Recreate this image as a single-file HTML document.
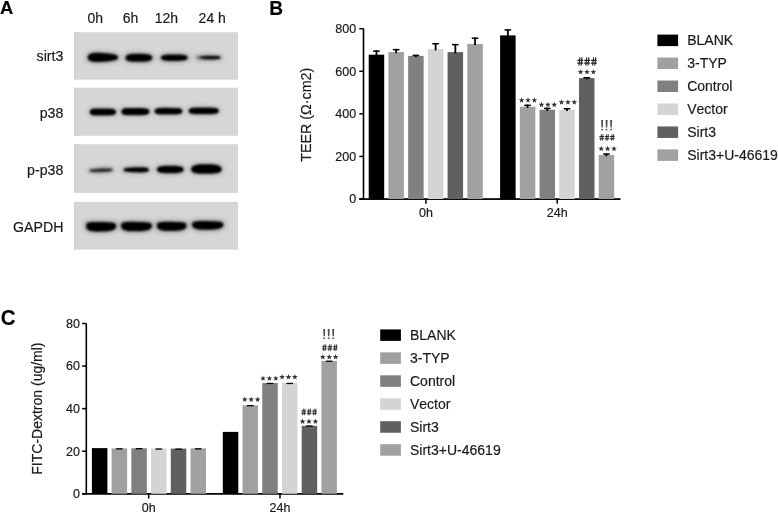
<!DOCTYPE html><html><head><meta charset="utf-8"><style>
html,body{margin:0;padding:0;background:#fff;width:778px;height:513px;overflow:hidden}
svg{display:block;filter:grayscale(1)}
text{font-family:"Liberation Sans",sans-serif;fill:#1a1a1a;font-kerning:none;stroke:#1a1a1a;stroke-width:0.18px}
</style></head><body>
<svg width="778" height="513" viewBox="0 0 778 513">
<defs>
<filter id="bl1" x="-30%" y="-100%" width="160%" height="300%"><feGaussianBlur stdDeviation="0.8"/></filter>
<filter id="bl2" x="-30%" y="-100%" width="160%" height="300%"><feGaussianBlur stdDeviation="2.0"/></filter>

</defs>
<text x="0.1" y="14.2" style="font-weight:bold;font-size:18.3px;fill:#000">A</text>
<text x="87.4" y="23.1" style="font-size:14px">0h</text>
<text x="122.8" y="23.1" style="font-size:14px">6h</text>
<text x="154.8" y="23.1" style="font-size:14px">12h</text>
<text x="198.6" y="23.1" style="font-size:14px">24 h</text>
<rect x="74.2" y="32.2" width="163.8" height="47.50" fill="#d6d6d6"/>
<rect x="74.2" y="32.2" width="1.3" height="47.50" fill="#cfcfcf"/>
<text x="63.4" y="61.4" text-anchor="end" style="font-size:14.2px">sirt3</text>
<rect x="74.2" y="87.6" width="163.8" height="48.20" fill="#d6d6d6"/>
<rect x="74.2" y="87.6" width="1.3" height="48.20" fill="#cfcfcf"/>
<text x="63.4" y="117.6" text-anchor="end" style="font-size:14.2px">p38</text>
<rect x="74.2" y="144.2" width="163.8" height="48.70" fill="#d6d6d6"/>
<rect x="74.2" y="144.2" width="1.3" height="48.70" fill="#cfcfcf"/>
<text x="63.4" y="175.1" text-anchor="end" style="font-size:14.2px">p-p38</text>
<rect x="74.2" y="201.8" width="163.8" height="47.90" fill="#d6d6d6"/>
<rect x="74.2" y="201.8" width="1.3" height="47.90" fill="#cfcfcf"/>
<text x="63.4" y="232.0" text-anchor="end" style="font-size:14.2px">GAPDH</text>
<linearGradient id="fade" x1="0" x2="1" y1="0" y2="0"><stop offset="0" stop-color="#000" stop-opacity="0.15"/><stop offset="0.3" stop-color="#000" stop-opacity="0.9"/><stop offset="1" stop-color="#000"/></linearGradient>
<path d="M120.40,57.40 L120.35,58.24 L120.21,58.83 L119.97,59.35 L119.64,59.82 L119.21,60.26 L118.69,60.67 L118.08,61.05 L117.37,61.41 L116.56,61.74 L115.66,62.05 L114.67,62.34 L113.57,62.60 L112.36,62.84 L111.03,63.06 L109.56,63.26 L107.91,63.44 L105.96,63.62 L102.90,63.84 L99.84,64.02 L97.89,64.08 L96.24,64.06 L94.77,63.97 L93.44,63.83 L92.23,63.64 L91.13,63.40 L90.14,63.12 L89.24,62.79 L88.43,62.42 L87.72,62.01 L87.11,61.55 L86.59,61.05 L86.16,60.51 L85.83,59.91 L85.59,59.25 L85.45,58.49 L85.40,57.40 L85.45,56.31 L85.59,55.55 L85.83,54.89 L86.16,54.29 L86.59,53.75 L87.11,53.25 L87.72,52.79 L88.43,52.38 L89.24,52.01 L90.14,51.68 L91.13,51.40 L92.23,51.16 L93.44,50.97 L94.77,50.83 L96.24,50.74 L97.89,50.72 L99.84,50.78 L102.90,50.96 L105.96,51.18 L107.91,51.36 L109.56,51.54 L111.03,51.74 L112.36,51.96 L113.57,52.20 L114.67,52.46 L115.66,52.75 L116.56,53.06 L117.37,53.39 L118.08,53.75 L118.69,54.13 L119.21,54.54 L119.64,54.98 L119.97,55.45 L120.21,55.97 L120.35,56.56Z" fill="#000" opacity="0.2" filter="url(#bl2)"/>
<path d="M118.00,57.40 L117.96,57.94 L117.84,58.31 L117.63,58.64 L117.34,58.95 L116.98,59.23 L116.53,59.50 L115.99,59.75 L115.38,59.99 L114.69,60.21 L113.91,60.42 L113.05,60.62 L112.10,60.81 L111.06,60.99 L109.92,61.16 L108.65,61.31 L107.22,61.47 L105.54,61.63 L102.90,61.84 L100.26,62.03 L98.58,62.10 L97.15,62.11 L95.88,62.07 L94.74,61.98 L93.70,61.85 L92.75,61.69 L91.89,61.49 L91.11,61.26 L90.42,61.00 L89.81,60.70 L89.27,60.38 L88.82,60.02 L88.46,59.63 L88.17,59.20 L87.96,58.73 L87.84,58.18 L87.80,57.40 L87.84,56.62 L87.96,56.07 L88.17,55.60 L88.46,55.17 L88.82,54.78 L89.27,54.42 L89.81,54.10 L90.42,53.80 L91.11,53.54 L91.89,53.31 L92.75,53.11 L93.70,52.95 L94.74,52.82 L95.88,52.73 L97.15,52.69 L98.58,52.70 L100.26,52.77 L102.90,52.96 L105.54,53.17 L107.22,53.33 L108.65,53.49 L109.92,53.64 L111.06,53.81 L112.10,53.99 L113.05,54.18 L113.91,54.38 L114.69,54.59 L115.38,54.81 L115.99,55.05 L116.53,55.30 L116.98,55.57 L117.34,55.85 L117.63,56.16 L117.84,56.49 L117.96,56.86Z" fill="#000" filter="url(#bl1)"/>
<path d="M154.60,57.80 L154.56,58.70 L154.45,59.33 L154.26,59.89 L154.00,60.39 L153.66,60.84 L153.25,61.27 L152.76,61.65 L152.19,62.01 L151.54,62.33 L150.81,62.63 L149.99,62.89 L149.08,63.11 L148.06,63.31 L146.93,63.47 L145.65,63.60 L144.16,63.70 L142.32,63.76 L138.90,63.80 L135.48,63.80 L133.64,63.76 L132.15,63.68 L130.87,63.57 L129.74,63.42 L128.72,63.23 L127.81,63.01 L126.99,62.75 L126.26,62.46 L125.61,62.13 L125.04,61.77 L124.55,61.37 L124.14,60.94 L123.80,60.47 L123.54,59.96 L123.35,59.39 L123.24,58.73 L123.20,57.80 L123.24,56.87 L123.35,56.21 L123.54,55.64 L123.80,55.13 L124.14,54.66 L124.55,54.23 L125.04,53.83 L125.61,53.47 L126.26,53.14 L126.99,52.85 L127.81,52.59 L128.72,52.37 L129.74,52.18 L130.87,52.03 L132.15,51.92 L133.64,51.84 L135.48,51.80 L138.90,51.80 L142.32,51.84 L144.16,51.90 L145.65,52.00 L146.93,52.13 L148.06,52.29 L149.08,52.49 L149.99,52.71 L150.81,52.97 L151.54,53.27 L152.19,53.59 L152.76,53.95 L153.25,54.33 L153.66,54.76 L154.00,55.21 L154.26,55.71 L154.45,56.27 L154.56,56.90Z" fill="#000" opacity="0.2" filter="url(#bl2)"/>
<path d="M152.20,57.80 L152.17,58.40 L152.07,58.81 L151.91,59.18 L151.69,59.51 L151.41,59.81 L151.06,60.09 L150.64,60.35 L150.16,60.59 L149.61,60.80 L148.99,61.00 L148.30,61.17 L147.52,61.32 L146.66,61.45 L145.70,61.56 L144.61,61.65 L143.35,61.72 L141.79,61.77 L138.90,61.80 L136.01,61.81 L134.45,61.79 L133.19,61.74 L132.10,61.66 L131.14,61.56 L130.28,61.44 L129.50,61.29 L128.81,61.12 L128.19,60.93 L127.64,60.71 L127.16,60.47 L126.74,60.20 L126.39,59.91 L126.11,59.59 L125.89,59.25 L125.73,58.87 L125.63,58.43 L125.60,57.80 L125.63,57.17 L125.73,56.73 L125.89,56.35 L126.11,56.01 L126.39,55.69 L126.74,55.40 L127.16,55.13 L127.64,54.89 L128.19,54.67 L128.81,54.48 L129.50,54.31 L130.28,54.16 L131.14,54.04 L132.10,53.94 L133.19,53.86 L134.45,53.81 L136.01,53.79 L138.90,53.80 L141.79,53.83 L143.35,53.88 L144.61,53.95 L145.70,54.04 L146.66,54.15 L147.52,54.28 L148.30,54.43 L148.99,54.60 L149.61,54.80 L150.16,55.01 L150.64,55.25 L151.06,55.51 L151.41,55.79 L151.69,56.09 L151.91,56.42 L152.07,56.79 L152.17,57.20Z" fill="#000" filter="url(#bl1)"/>
<path d="M190.00,57.70 L189.96,58.50 L189.84,59.05 L189.64,59.54 L189.36,59.98 L189.00,60.38 L188.56,60.75 L188.04,61.09 L187.44,61.41 L186.76,61.69 L185.99,61.95 L185.14,62.17 L184.19,62.37 L183.14,62.54 L181.98,62.68 L180.68,62.79 L179.19,62.87 L177.39,62.92 L174.30,62.95 L171.21,62.94 L169.41,62.90 L167.92,62.83 L166.62,62.73 L165.46,62.59 L164.41,62.43 L163.46,62.23 L162.61,62.01 L161.84,61.75 L161.16,61.47 L160.56,61.15 L160.04,60.81 L159.60,60.43 L159.24,60.02 L158.96,59.57 L158.76,59.08 L158.64,58.51 L158.60,57.70 L158.64,56.89 L158.76,56.32 L158.96,55.83 L159.24,55.38 L159.60,54.97 L160.04,54.59 L160.56,54.25 L161.16,53.93 L161.84,53.65 L162.61,53.39 L163.46,53.17 L164.41,52.97 L165.46,52.81 L166.62,52.67 L167.92,52.57 L169.41,52.50 L171.21,52.46 L174.30,52.45 L177.39,52.48 L179.19,52.53 L180.68,52.61 L181.98,52.72 L183.14,52.86 L184.19,53.03 L185.14,53.23 L185.99,53.45 L186.76,53.71 L187.44,53.99 L188.04,54.31 L188.56,54.65 L189.00,55.02 L189.36,55.42 L189.64,55.86 L189.84,56.35 L189.96,56.90Z" fill="#000" opacity="0.2" filter="url(#bl2)"/>
<path d="M187.60,57.70 L187.57,58.19 L187.46,58.53 L187.30,58.83 L187.06,59.10 L186.76,59.35 L186.38,59.58 L185.94,59.79 L185.43,59.98 L184.86,60.16 L184.21,60.32 L183.48,60.46 L182.68,60.58 L181.79,60.69 L180.80,60.77 L179.70,60.84 L178.44,60.90 L176.91,60.93 L174.30,60.95 L171.69,60.95 L170.16,60.93 L168.90,60.88 L167.80,60.82 L166.81,60.74 L165.92,60.64 L165.12,60.52 L164.39,60.38 L163.74,60.22 L163.17,60.04 L162.66,59.85 L162.22,59.63 L161.84,59.40 L161.54,59.14 L161.30,58.87 L161.14,58.56 L161.03,58.21 L161.00,57.70 L161.03,57.19 L161.14,56.84 L161.30,56.53 L161.54,56.26 L161.84,56.00 L162.22,55.77 L162.66,55.55 L163.17,55.36 L163.74,55.18 L164.39,55.02 L165.12,54.88 L165.92,54.76 L166.81,54.66 L167.80,54.58 L168.90,54.52 L170.16,54.47 L171.69,54.45 L174.30,54.45 L176.91,54.47 L178.44,54.50 L179.70,54.56 L180.80,54.63 L181.79,54.71 L182.68,54.82 L183.48,54.94 L184.21,55.08 L184.86,55.24 L185.43,55.42 L185.94,55.61 L186.38,55.82 L186.76,56.05 L187.06,56.30 L187.30,56.57 L187.46,56.87 L187.57,57.21Z" fill="#000" filter="url(#bl1)"/>
<path d="M223.00,57.60 L222.95,58.21 L222.81,58.64 L222.58,59.01 L222.26,59.35 L221.84,59.66 L221.34,59.94 L220.75,60.19 L220.07,60.43 L219.31,60.64 L218.47,60.82 L217.55,60.98 L216.55,61.12 L215.47,61.24 L214.31,61.33 L213.07,61.40 L211.72,61.44 L210.22,61.46 L208.30,61.45 L206.38,61.42 L204.88,61.37 L203.53,61.30 L202.29,61.21 L201.13,61.10 L200.05,60.97 L199.05,60.82 L198.13,60.65 L197.29,60.46 L196.53,60.25 L195.85,60.03 L195.26,59.78 L194.76,59.51 L194.34,59.22 L194.02,58.91 L193.79,58.56 L193.65,58.17 L193.60,57.60 L193.65,57.03 L193.79,56.64 L194.02,56.29 L194.34,55.98 L194.76,55.69 L195.26,55.42 L195.85,55.17 L196.53,54.95 L197.29,54.74 L198.13,54.55 L199.05,54.38 L200.05,54.23 L201.13,54.10 L202.29,53.99 L203.53,53.90 L204.88,53.83 L206.38,53.78 L208.30,53.75 L210.22,53.74 L211.72,53.76 L213.07,53.80 L214.31,53.87 L215.47,53.96 L216.55,54.08 L217.55,54.22 L218.47,54.38 L219.31,54.56 L220.07,54.77 L220.75,55.01 L221.34,55.26 L221.84,55.54 L222.26,55.85 L222.58,56.19 L222.81,56.56 L222.95,56.99Z" fill="#000" opacity="0.2" filter="url(#bl2)"/>
<path d="M220.60,57.60 L220.56,57.91 L220.44,58.12 L220.25,58.31 L219.98,58.47 L219.63,58.63 L219.21,58.76 L218.72,58.89 L218.15,59.00 L217.51,59.10 L216.81,59.19 L216.04,59.27 L215.20,59.33 L214.30,59.38 L213.33,59.42 L212.29,59.45 L211.16,59.46 L209.91,59.46 L208.30,59.45 L206.69,59.43 L205.44,59.39 L204.31,59.35 L203.27,59.31 L202.30,59.25 L201.40,59.18 L200.56,59.11 L199.79,59.02 L199.09,58.93 L198.45,58.83 L197.88,58.72 L197.39,58.61 L196.97,58.48 L196.62,58.35 L196.35,58.20 L196.16,58.04 L196.04,57.86 L196.00,57.60 L196.04,57.34 L196.16,57.16 L196.35,57.00 L196.62,56.85 L196.97,56.72 L197.39,56.59 L197.88,56.48 L198.45,56.37 L199.09,56.27 L199.79,56.18 L200.56,56.09 L201.40,56.02 L202.30,55.95 L203.27,55.89 L204.31,55.85 L205.44,55.81 L206.69,55.77 L208.30,55.75 L209.91,55.74 L211.16,55.74 L212.29,55.75 L213.33,55.78 L214.30,55.82 L215.20,55.87 L216.04,55.93 L216.81,56.01 L217.51,56.10 L218.15,56.20 L218.72,56.31 L219.21,56.44 L219.63,56.57 L219.98,56.73 L220.25,56.89 L220.44,57.08 L220.56,57.29Z" fill="url(#fade)" filter="url(#bl1)"/>
<path d="M118.40,112.00 L118.38,112.83 L118.31,113.40 L118.19,113.91 L118.02,114.37 L117.80,114.79 L117.53,115.17 L117.21,115.53 L116.83,115.85 L116.39,116.15 L115.89,116.42 L115.31,116.66 L114.65,116.87 L113.88,117.05 L112.99,117.20 L111.93,117.32 L110.59,117.41 L108.74,117.48 L102.90,117.55 L97.06,117.59 L95.21,117.56 L93.87,117.49 L92.81,117.38 L91.92,117.24 L91.15,117.07 L90.49,116.86 L89.91,116.62 L89.41,116.35 L88.97,116.05 L88.59,115.71 L88.27,115.34 L88.00,114.94 L87.78,114.50 L87.61,114.01 L87.49,113.48 L87.42,112.87 L87.40,112.00 L87.42,111.13 L87.49,110.52 L87.61,109.99 L87.78,109.50 L88.00,109.06 L88.27,108.66 L88.59,108.29 L88.97,107.95 L89.41,107.65 L89.91,107.38 L90.49,107.14 L91.15,106.93 L91.92,106.76 L92.81,106.62 L93.87,106.51 L95.21,106.44 L97.06,106.41 L102.90,106.45 L108.74,106.52 L110.59,106.59 L111.93,106.68 L112.99,106.80 L113.88,106.95 L114.65,107.13 L115.31,107.34 L115.89,107.58 L116.39,107.85 L116.83,108.15 L117.21,108.47 L117.53,108.83 L117.80,109.21 L118.02,109.63 L118.19,110.09 L118.31,110.60 L118.38,111.17Z" fill="#000" opacity="0.1" filter="url(#bl2)"/>
<path d="M116.00,112.00 L115.98,112.52 L115.92,112.88 L115.82,113.20 L115.68,113.49 L115.49,113.76 L115.27,114.00 L115.00,114.22 L114.68,114.43 L114.30,114.62 L113.88,114.79 L113.39,114.94 L112.83,115.08 L112.18,115.19 L111.43,115.29 L110.53,115.37 L109.40,115.43 L107.84,115.48 L102.90,115.55 L97.96,115.60 L96.40,115.58 L95.27,115.54 L94.37,115.48 L93.62,115.39 L92.97,115.28 L92.41,115.15 L91.92,114.99 L91.50,114.82 L91.12,114.62 L90.80,114.41 L90.53,114.17 L90.31,113.90 L90.12,113.62 L89.98,113.31 L89.88,112.96 L89.82,112.57 L89.80,112.00 L89.82,111.43 L89.88,111.04 L89.98,110.69 L90.12,110.38 L90.31,110.10 L90.53,109.83 L90.80,109.59 L91.12,109.38 L91.50,109.18 L91.92,109.01 L92.41,108.85 L92.97,108.72 L93.62,108.61 L94.37,108.52 L95.27,108.46 L96.40,108.42 L97.96,108.40 L102.90,108.45 L107.84,108.52 L109.40,108.57 L110.53,108.63 L111.43,108.71 L112.18,108.81 L112.83,108.92 L113.39,109.06 L113.88,109.21 L114.30,109.38 L114.68,109.57 L115.00,109.78 L115.27,110.00 L115.49,110.24 L115.68,110.51 L115.82,110.80 L115.92,111.12 L115.98,111.48Z" fill="#000" filter="url(#bl1)"/>
<path d="M151.80,111.60 L151.78,112.44 L151.70,113.03 L151.57,113.55 L151.40,114.01 L151.17,114.44 L150.88,114.83 L150.54,115.19 L150.14,115.53 L149.68,115.83 L149.14,116.10 L148.53,116.34 L147.83,116.56 L147.02,116.74 L146.08,116.89 L144.95,117.02 L143.54,117.11 L141.58,117.18 L135.40,117.25 L129.22,117.29 L127.26,117.26 L125.85,117.19 L124.72,117.08 L123.78,116.94 L122.97,116.76 L122.27,116.55 L121.66,116.31 L121.12,116.03 L120.66,115.72 L120.26,115.37 L119.92,115.00 L119.63,114.59 L119.40,114.14 L119.23,113.65 L119.10,113.11 L119.02,112.49 L119.00,111.60 L119.02,110.71 L119.10,110.09 L119.23,109.55 L119.40,109.06 L119.63,108.61 L119.92,108.20 L120.26,107.83 L120.66,107.48 L121.12,107.17 L121.66,106.89 L122.27,106.65 L122.97,106.44 L123.78,106.26 L124.72,106.12 L125.85,106.01 L127.26,105.94 L129.22,105.91 L135.40,105.95 L141.58,106.02 L143.54,106.09 L144.95,106.18 L146.08,106.31 L147.02,106.46 L147.83,106.64 L148.53,106.86 L149.14,107.10 L149.68,107.37 L150.14,107.67 L150.54,108.01 L150.88,108.37 L151.17,108.76 L151.40,109.19 L151.57,109.65 L151.70,110.17 L151.78,110.76Z" fill="#000" opacity="0.1" filter="url(#bl2)"/>
<path d="M149.40,111.60 L149.38,112.14 L149.31,112.51 L149.21,112.84 L149.06,113.13 L148.86,113.41 L148.62,113.66 L148.33,113.89 L147.98,114.10 L147.59,114.30 L147.13,114.47 L146.61,114.63 L146.01,114.77 L145.32,114.89 L144.51,114.99 L143.55,115.07 L142.35,115.13 L140.68,115.18 L135.40,115.25 L130.12,115.30 L128.45,115.28 L127.25,115.24 L126.29,115.17 L125.48,115.08 L124.79,114.97 L124.19,114.83 L123.67,114.68 L123.21,114.50 L122.82,114.29 L122.47,114.07 L122.18,113.82 L121.94,113.56 L121.74,113.26 L121.59,112.94 L121.49,112.59 L121.42,112.18 L121.40,111.60 L121.42,111.02 L121.49,110.61 L121.59,110.26 L121.74,109.94 L121.94,109.64 L122.18,109.38 L122.47,109.13 L122.82,108.91 L123.21,108.70 L123.67,108.52 L124.19,108.37 L124.79,108.23 L125.48,108.12 L126.29,108.03 L127.25,107.96 L128.45,107.92 L130.12,107.90 L135.40,107.95 L140.68,108.02 L142.35,108.07 L143.55,108.13 L144.51,108.21 L145.32,108.31 L146.01,108.43 L146.61,108.57 L147.13,108.73 L147.59,108.90 L147.98,109.10 L148.33,109.31 L148.62,109.54 L148.86,109.79 L149.06,110.07 L149.21,110.36 L149.31,110.69 L149.38,111.06Z" fill="#000" filter="url(#bl1)"/>
<path d="M184.80,111.20 L184.78,112.01 L184.70,112.58 L184.58,113.07 L184.40,113.52 L184.17,113.93 L183.89,114.31 L183.55,114.66 L183.15,114.98 L182.69,115.26 L182.16,115.52 L181.55,115.75 L180.85,115.96 L180.05,116.13 L179.11,116.27 L177.99,116.38 L176.59,116.46 L174.64,116.52 L168.50,116.55 L162.36,116.55 L160.41,116.51 L159.01,116.44 L157.89,116.33 L156.95,116.19 L156.15,116.02 L155.45,115.82 L154.84,115.59 L154.31,115.33 L153.85,115.04 L153.45,114.72 L153.11,114.37 L152.83,113.98 L152.60,113.57 L152.42,113.11 L152.30,112.60 L152.22,112.03 L152.20,111.20 L152.22,110.37 L152.30,109.80 L152.42,109.29 L152.60,108.83 L152.83,108.42 L153.11,108.03 L153.45,107.68 L153.85,107.36 L154.31,107.07 L154.84,106.81 L155.45,106.58 L156.15,106.38 L156.95,106.21 L157.89,106.07 L159.01,105.96 L160.41,105.89 L162.36,105.85 L168.50,105.85 L174.64,105.88 L176.59,105.94 L177.99,106.02 L179.11,106.13 L180.05,106.27 L180.85,106.44 L181.55,106.65 L182.16,106.88 L182.69,107.14 L183.15,107.42 L183.55,107.74 L183.89,108.09 L184.17,108.47 L184.40,108.88 L184.58,109.33 L184.70,109.82 L184.78,110.39Z" fill="#000" opacity="0.1" filter="url(#bl2)"/>
<path d="M182.40,111.20 L182.38,111.71 L182.32,112.06 L182.21,112.37 L182.06,112.65 L181.86,112.90 L181.62,113.14 L181.33,113.35 L180.99,113.55 L180.60,113.73 L180.15,113.89 L179.63,114.04 L179.03,114.17 L178.35,114.27 L177.55,114.36 L176.59,114.43 L175.40,114.49 L173.74,114.52 L168.50,114.55 L163.26,114.56 L161.60,114.54 L160.41,114.49 L159.45,114.42 L158.65,114.34 L157.97,114.23 L157.37,114.11 L156.85,113.96 L156.40,113.80 L156.01,113.62 L155.67,113.41 L155.38,113.19 L155.14,112.95 L154.94,112.69 L154.79,112.40 L154.68,112.08 L154.62,111.72 L154.60,111.20 L154.62,110.68 L154.68,110.32 L154.79,110.00 L154.94,109.71 L155.14,109.45 L155.38,109.21 L155.67,108.99 L156.01,108.78 L156.40,108.60 L156.85,108.44 L157.37,108.29 L157.97,108.17 L158.65,108.06 L159.45,107.98 L160.41,107.91 L161.60,107.86 L163.26,107.84 L168.50,107.85 L173.74,107.88 L175.40,107.91 L176.59,107.97 L177.55,108.04 L178.35,108.13 L179.03,108.23 L179.63,108.36 L180.15,108.51 L180.60,108.67 L180.99,108.85 L181.33,109.05 L181.62,109.26 L181.86,109.50 L182.06,109.75 L182.21,110.03 L182.32,110.34 L182.38,110.69Z" fill="#000" filter="url(#bl1)"/>
<path d="M221.20,110.90 L221.17,111.71 L221.09,112.28 L220.96,112.77 L220.77,113.22 L220.52,113.63 L220.22,114.01 L219.86,114.36 L219.43,114.68 L218.93,114.96 L218.36,115.22 L217.71,115.45 L216.96,115.66 L216.10,115.83 L215.09,115.97 L213.89,116.08 L212.39,116.16 L210.29,116.22 L203.70,116.25 L197.11,116.25 L195.01,116.21 L193.51,116.14 L192.31,116.03 L191.30,115.89 L190.44,115.72 L189.69,115.52 L189.04,115.29 L188.47,115.03 L187.97,114.74 L187.54,114.42 L187.18,114.07 L186.88,113.68 L186.63,113.27 L186.44,112.81 L186.31,112.30 L186.23,111.73 L186.20,110.90 L186.23,110.07 L186.31,109.50 L186.44,108.99 L186.63,108.53 L186.88,108.12 L187.18,107.73 L187.54,107.38 L187.97,107.06 L188.47,106.77 L189.04,106.51 L189.69,106.28 L190.44,106.08 L191.30,105.91 L192.31,105.77 L193.51,105.66 L195.01,105.59 L197.11,105.55 L203.70,105.55 L210.29,105.58 L212.39,105.64 L213.89,105.72 L215.09,105.83 L216.10,105.97 L216.96,106.14 L217.71,106.35 L218.36,106.58 L218.93,106.84 L219.43,107.12 L219.86,107.44 L220.22,107.79 L220.52,108.17 L220.77,108.58 L220.96,109.03 L221.09,109.52 L221.17,110.09Z" fill="#000" opacity="0.1" filter="url(#bl2)"/>
<path d="M218.80,110.90 L218.78,111.41 L218.71,111.76 L218.59,112.07 L218.43,112.35 L218.22,112.60 L217.96,112.84 L217.64,113.05 L217.27,113.25 L216.85,113.43 L216.35,113.59 L215.79,113.74 L215.14,113.87 L214.40,113.97 L213.53,114.06 L212.49,114.13 L211.20,114.19 L209.39,114.22 L203.70,114.25 L198.01,114.26 L196.20,114.24 L194.91,114.19 L193.87,114.12 L193.00,114.04 L192.26,113.93 L191.61,113.81 L191.05,113.66 L190.55,113.50 L190.13,113.32 L189.76,113.11 L189.44,112.89 L189.18,112.65 L188.97,112.39 L188.81,112.10 L188.69,111.78 L188.62,111.42 L188.60,110.90 L188.62,110.38 L188.69,110.02 L188.81,109.70 L188.97,109.41 L189.18,109.15 L189.44,108.91 L189.76,108.69 L190.13,108.48 L190.55,108.30 L191.05,108.14 L191.61,107.99 L192.26,107.87 L193.00,107.76 L193.87,107.68 L194.91,107.61 L196.20,107.56 L198.01,107.54 L203.70,107.55 L209.39,107.58 L211.20,107.61 L212.49,107.67 L213.53,107.74 L214.40,107.83 L215.14,107.93 L215.79,108.06 L216.35,108.21 L216.85,108.37 L217.27,108.55 L217.64,108.75 L217.96,108.96 L218.22,109.20 L218.43,109.45 L218.59,109.73 L218.71,110.04 L218.78,110.39Z" fill="#000" filter="url(#bl1)"/>
<path d="M115.00,169.80 L114.96,170.44 L114.82,170.90 L114.60,171.30 L114.29,171.66 L113.89,171.99 L113.41,172.30 L112.84,172.59 L112.19,172.85 L111.46,173.09 L110.66,173.31 L109.77,173.51 L108.81,173.68 L107.78,173.83 L106.67,173.96 L105.47,174.06 L104.18,174.14 L102.75,174.21 L100.90,174.25 L99.05,174.27 L97.62,174.26 L96.33,174.23 L95.13,174.17 L94.02,174.09 L92.99,173.99 L92.03,173.87 L91.14,173.72 L90.34,173.56 L89.61,173.37 L88.96,173.16 L88.39,172.93 L87.91,172.68 L87.51,172.40 L87.20,172.10 L86.98,171.76 L86.84,171.36 L86.80,170.80 L86.84,170.23 L86.98,169.83 L87.20,169.48 L87.51,169.15 L87.91,168.84 L88.39,168.56 L88.96,168.29 L89.61,168.03 L90.34,167.79 L91.14,167.57 L92.03,167.36 L92.99,167.17 L94.02,166.99 L95.13,166.84 L96.33,166.69 L97.62,166.57 L99.05,166.46 L100.90,166.35 L102.75,166.26 L104.18,166.22 L105.47,166.21 L106.67,166.23 L107.78,166.28 L108.81,166.36 L109.77,166.46 L110.66,166.60 L111.46,166.76 L112.19,166.95 L112.84,167.16 L113.41,167.41 L113.89,167.68 L114.29,167.99 L114.60,168.33 L114.82,168.71 L114.96,169.16Z" fill="#000" opacity="0.16" filter="url(#bl2)"/>
<path d="M112.60,169.80 L112.56,170.14 L112.45,170.38 L112.27,170.59 L112.01,170.78 L111.68,170.96 L111.28,171.13 L110.81,171.29 L110.27,171.43 L109.67,171.56 L109.00,171.68 L108.26,171.79 L107.47,171.89 L106.61,171.98 L105.69,172.05 L104.69,172.12 L103.62,172.17 L102.43,172.21 L100.90,172.25 L99.37,172.28 L98.18,172.29 L97.11,172.28 L96.11,172.27 L95.19,172.24 L94.33,172.20 L93.54,172.15 L92.80,172.09 L92.13,172.02 L91.53,171.95 L90.99,171.86 L90.52,171.76 L90.12,171.65 L89.79,171.53 L89.53,171.39 L89.35,171.24 L89.24,171.06 L89.20,170.80 L89.24,170.54 L89.35,170.35 L89.53,170.18 L89.79,170.02 L90.12,169.87 L90.52,169.73 L90.99,169.59 L91.53,169.45 L92.13,169.32 L92.80,169.20 L93.54,169.08 L94.33,168.96 L95.19,168.85 L96.11,168.74 L97.11,168.64 L98.18,168.55 L99.37,168.45 L100.90,168.35 L102.43,168.26 L103.62,168.20 L104.69,168.16 L105.69,168.14 L106.61,168.14 L107.47,168.15 L108.26,168.18 L109.00,168.22 L109.67,168.29 L110.27,168.37 L110.81,168.47 L111.28,168.58 L111.68,168.72 L112.01,168.87 L112.27,169.04 L112.45,169.23 L112.56,169.46Z" fill="#2e2e2e" filter="url(#bl1)"/>
<path d="M151.20,169.80 L151.16,170.55 L151.04,171.07 L150.83,171.53 L150.54,171.94 L150.18,172.31 L149.73,172.65 L149.19,172.96 L148.58,173.24 L147.89,173.49 L147.11,173.71 L146.25,173.90 L145.30,174.06 L144.26,174.19 L143.12,174.29 L141.85,174.36 L140.42,174.40 L138.74,174.40 L136.10,174.35 L133.46,174.28 L131.78,174.20 L130.35,174.10 L129.08,173.98 L127.94,173.84 L126.90,173.68 L125.95,173.50 L125.09,173.30 L124.31,173.08 L123.62,172.83 L123.01,172.57 L122.47,172.28 L122.02,171.98 L121.66,171.65 L121.37,171.29 L121.16,170.89 L121.04,170.44 L121.00,169.80 L121.04,169.16 L121.16,168.71 L121.37,168.31 L121.66,167.95 L122.02,167.62 L122.47,167.32 L123.01,167.03 L123.62,166.77 L124.31,166.52 L125.09,166.30 L125.95,166.10 L126.90,165.92 L127.94,165.76 L129.08,165.62 L130.35,165.50 L131.78,165.40 L133.46,165.32 L136.10,165.25 L138.74,165.20 L140.42,165.20 L141.85,165.24 L143.12,165.31 L144.26,165.41 L145.30,165.54 L146.25,165.70 L147.11,165.89 L147.89,166.11 L148.58,166.36 L149.19,166.64 L149.73,166.95 L150.18,167.29 L150.54,167.66 L150.83,168.07 L151.04,168.53 L151.16,169.05Z" fill="#000" opacity="0.16" filter="url(#bl2)"/>
<path d="M148.80,169.80 L148.77,170.24 L148.66,170.55 L148.49,170.82 L148.25,171.06 L147.94,171.28 L147.56,171.48 L147.11,171.66 L146.60,171.82 L146.02,171.96 L145.36,172.09 L144.64,172.19 L143.84,172.27 L142.96,172.34 L142.00,172.39 L140.94,172.41 L139.74,172.42 L138.32,172.40 L136.10,172.35 L133.88,172.28 L132.46,172.22 L131.26,172.15 L130.20,172.08 L129.24,171.99 L128.36,171.89 L127.56,171.79 L126.84,171.67 L126.18,171.54 L125.60,171.41 L125.09,171.26 L124.64,171.11 L124.26,170.95 L123.95,170.77 L123.71,170.58 L123.54,170.37 L123.43,170.14 L123.40,169.80 L123.43,169.46 L123.54,169.23 L123.71,169.02 L123.95,168.83 L124.26,168.65 L124.64,168.49 L125.09,168.34 L125.60,168.19 L126.18,168.06 L126.84,167.93 L127.56,167.81 L128.36,167.71 L129.24,167.61 L130.20,167.52 L131.26,167.45 L132.46,167.38 L133.88,167.32 L136.10,167.25 L138.32,167.20 L139.74,167.18 L140.94,167.19 L142.00,167.21 L142.96,167.26 L143.84,167.33 L144.64,167.41 L145.36,167.51 L146.02,167.64 L146.60,167.78 L147.11,167.94 L147.56,168.12 L147.94,168.32 L148.25,168.54 L148.49,168.78 L148.66,169.05 L148.77,169.36Z" fill="#000" filter="url(#bl1)"/>
<path d="M186.00,169.50 L185.96,170.37 L185.84,170.98 L185.64,171.52 L185.36,172.00 L185.00,172.44 L184.56,172.85 L184.04,173.22 L183.44,173.56 L182.76,173.87 L181.99,174.15 L181.14,174.40 L180.19,174.62 L179.14,174.80 L177.98,174.96 L176.68,175.08 L175.19,175.17 L173.39,175.22 L170.30,175.25 L167.21,175.24 L165.41,175.20 L163.92,175.12 L162.62,175.00 L161.46,174.86 L160.41,174.68 L159.46,174.46 L158.61,174.21 L157.84,173.93 L157.16,173.62 L156.56,173.28 L156.04,172.90 L155.60,172.49 L155.24,172.04 L154.96,171.55 L154.76,171.01 L154.64,170.39 L154.60,169.50 L154.64,168.61 L154.76,167.99 L154.96,167.45 L155.24,166.96 L155.60,166.51 L156.04,166.10 L156.56,165.72 L157.16,165.38 L157.84,165.07 L158.61,164.79 L159.46,164.54 L160.41,164.32 L161.46,164.14 L162.62,164.00 L163.92,163.88 L165.41,163.80 L167.21,163.76 L170.30,163.75 L173.39,163.78 L175.19,163.83 L176.68,163.92 L177.98,164.04 L179.14,164.20 L180.19,164.38 L181.14,164.60 L181.99,164.85 L182.76,165.13 L183.44,165.44 L184.04,165.78 L184.56,166.15 L185.00,166.56 L185.36,167.00 L185.64,167.48 L185.84,168.02 L185.96,168.63Z" fill="#000" opacity="0.16" filter="url(#bl2)"/>
<path d="M183.60,169.50 L183.57,170.07 L183.46,170.46 L183.30,170.81 L183.06,171.12 L182.76,171.41 L182.38,171.67 L181.94,171.92 L181.43,172.14 L180.86,172.34 L180.21,172.52 L179.48,172.69 L178.68,172.83 L177.79,172.95 L176.80,173.05 L175.70,173.13 L174.44,173.19 L172.91,173.23 L170.30,173.25 L167.69,173.25 L166.16,173.22 L164.90,173.17 L163.80,173.10 L162.81,173.00 L161.92,172.89 L161.12,172.75 L160.39,172.59 L159.74,172.40 L159.17,172.20 L158.66,171.97 L158.22,171.73 L157.84,171.46 L157.54,171.16 L157.30,170.84 L157.14,170.49 L157.03,170.08 L157.00,169.50 L157.03,168.92 L157.14,168.51 L157.30,168.16 L157.54,167.84 L157.84,167.54 L158.22,167.27 L158.66,167.03 L159.17,166.80 L159.74,166.60 L160.39,166.41 L161.12,166.25 L161.92,166.11 L162.81,166.00 L163.80,165.90 L164.90,165.83 L166.16,165.78 L167.69,165.75 L170.30,165.75 L172.91,165.77 L174.44,165.81 L175.70,165.87 L176.80,165.95 L177.79,166.05 L178.68,166.17 L179.48,166.31 L180.21,166.48 L180.86,166.66 L181.43,166.86 L181.94,167.08 L182.38,167.33 L182.76,167.59 L183.06,167.88 L183.30,168.19 L183.46,168.54 L183.57,168.93Z" fill="#000" filter="url(#bl1)"/>
<path d="M224.00,169.00 L223.95,170.32 L223.81,171.09 L223.57,171.72 L223.24,172.28 L222.81,172.78 L222.28,173.23 L221.66,173.64 L220.95,174.01 L220.14,174.34 L219.24,174.64 L218.23,174.91 L217.13,175.14 L215.91,175.34 L214.58,175.50 L213.10,175.64 L211.44,175.74 L209.48,175.81 L206.40,175.85 L203.32,175.86 L201.36,175.82 L199.70,175.75 L198.22,175.64 L196.89,175.49 L195.67,175.31 L194.57,175.09 L193.56,174.83 L192.66,174.53 L191.85,174.19 L191.14,173.82 L190.52,173.40 L189.99,172.94 L189.56,172.42 L189.23,171.84 L188.99,171.18 L188.85,170.38 L188.80,169.00 L188.85,168.24 L188.99,167.58 L189.23,166.95 L189.56,166.36 L189.99,165.81 L190.52,165.28 L191.14,164.79 L191.85,164.33 L192.66,163.92 L193.56,163.54 L194.57,163.20 L195.67,162.91 L196.89,162.66 L198.22,162.46 L199.70,162.31 L201.36,162.20 L203.32,162.15 L206.40,162.15 L209.48,162.20 L211.44,162.29 L213.10,162.42 L214.58,162.59 L215.91,162.81 L217.13,163.07 L218.23,163.37 L219.24,163.71 L220.14,164.09 L220.95,164.50 L221.66,164.95 L222.28,165.42 L222.81,165.93 L223.24,166.47 L223.57,167.04 L223.81,167.64 L223.95,168.27Z" fill="#000" opacity="0.16" filter="url(#bl2)"/>
<path d="M221.60,169.00 L221.56,169.92 L221.43,170.46 L221.23,170.91 L220.94,171.30 L220.57,171.65 L220.12,171.97 L219.58,172.26 L218.97,172.52 L218.27,172.76 L217.49,172.97 L216.62,173.16 L215.66,173.32 L214.62,173.47 L213.46,173.59 L212.19,173.68 L210.75,173.76 L209.06,173.81 L206.40,173.85 L203.74,173.86 L202.05,173.84 L200.61,173.80 L199.34,173.72 L198.18,173.62 L197.14,173.49 L196.18,173.33 L195.31,173.15 L194.53,172.94 L193.83,172.70 L193.22,172.44 L192.68,172.14 L192.23,171.81 L191.86,171.44 L191.57,171.03 L191.37,170.56 L191.24,169.98 L191.20,169.00 L191.24,168.46 L191.37,167.98 L191.57,167.54 L191.86,167.12 L192.23,166.72 L192.68,166.35 L193.22,166.00 L193.83,165.67 L194.53,165.38 L195.31,165.11 L196.18,164.87 L197.14,164.66 L198.18,164.49 L199.34,164.35 L200.61,164.25 L202.05,164.17 L203.74,164.14 L206.40,164.15 L209.06,164.19 L210.75,164.26 L212.19,164.36 L213.46,164.48 L214.62,164.64 L215.66,164.82 L216.62,165.04 L217.49,165.28 L218.27,165.55 L218.97,165.84 L219.58,166.15 L220.12,166.49 L220.57,166.85 L220.94,167.23 L221.23,167.62 L221.43,168.04 L221.56,168.49Z" fill="#000" filter="url(#bl1)"/>
<path d="M118.40,226.80 L118.36,227.37 L118.24,227.93 L118.03,228.48 L117.74,229.03 L117.37,229.55 L116.91,230.06 L116.37,230.55 L115.75,231.01 L115.03,231.44 L114.22,231.83 L113.32,232.20 L112.32,232.52 L111.20,232.80 L109.95,233.05 L108.53,233.24 L106.89,233.40 L104.86,233.51 L101.10,233.60 L97.34,233.64 L95.31,233.60 L93.67,233.49 L92.25,233.33 L91.00,233.12 L89.88,232.86 L88.88,232.54 L87.98,232.18 L87.17,231.78 L86.45,231.33 L85.83,230.85 L85.29,230.34 L84.83,229.79 L84.46,229.22 L84.17,228.64 L83.96,228.03 L83.84,227.42 L83.80,226.80 L83.84,224.12 L83.96,223.28 L84.17,222.67 L84.46,222.18 L84.83,221.78 L85.29,221.44 L85.83,221.14 L86.45,220.89 L87.17,220.67 L87.98,220.48 L88.88,220.33 L89.88,220.20 L91.00,220.09 L92.25,220.02 L93.67,219.97 L95.31,219.94 L97.34,219.95 L101.10,220.00 L104.86,220.08 L106.89,220.14 L108.53,220.22 L109.95,220.32 L111.20,220.43 L112.32,220.56 L113.32,220.72 L114.22,220.89 L115.03,221.09 L115.75,221.31 L116.37,221.57 L116.91,221.85 L117.37,222.18 L117.74,222.56 L118.03,223.01 L118.24,223.57 L118.36,224.35Z" fill="#000" opacity="0.22" filter="url(#bl2)"/>
<path d="M116.00,226.80 L115.96,227.19 L115.86,227.58 L115.68,227.97 L115.43,228.34 L115.11,228.71 L114.72,229.06 L114.25,229.40 L113.71,229.72 L113.10,230.02 L112.40,230.30 L111.63,230.56 L110.76,230.79 L109.80,230.99 L108.72,231.17 L107.50,231.31 L106.09,231.43 L104.34,231.52 L101.10,231.60 L97.86,231.65 L96.11,231.63 L94.70,231.56 L93.48,231.45 L92.40,231.31 L91.44,231.13 L90.57,230.91 L89.80,230.65 L89.10,230.36 L88.49,230.05 L87.95,229.71 L87.48,229.34 L87.09,228.95 L86.77,228.54 L86.52,228.12 L86.34,227.69 L86.24,227.24 L86.20,226.80 L86.24,224.88 L86.34,224.27 L86.52,223.83 L86.77,223.49 L87.09,223.20 L87.48,222.95 L87.95,222.74 L88.49,222.56 L89.10,222.41 L89.80,222.28 L90.57,222.17 L91.44,222.08 L92.40,222.02 L93.48,221.97 L94.70,221.94 L96.11,221.93 L97.86,221.94 L101.10,222.00 L104.34,222.07 L106.09,222.13 L107.50,222.19 L108.72,222.27 L109.80,222.35 L110.76,222.45 L111.63,222.56 L112.40,222.69 L113.10,222.83 L113.71,222.99 L114.25,223.17 L114.72,223.37 L115.11,223.60 L115.43,223.86 L115.68,224.18 L115.86,224.56 L115.96,225.10Z" fill="#000" filter="url(#bl1)"/>
<path d="M154.20,226.60 L154.16,227.16 L154.03,227.71 L153.82,228.26 L153.53,228.79 L153.14,229.31 L152.68,229.81 L152.13,230.29 L151.48,230.74 L150.75,231.17 L149.93,231.56 L149.01,231.91 L147.98,232.23 L146.83,232.51 L145.55,232.75 L144.10,232.95 L142.43,233.10 L140.35,233.21 L136.50,233.30 L132.65,233.34 L130.57,233.30 L128.90,233.20 L127.45,233.04 L126.17,232.83 L125.02,232.57 L123.99,232.26 L123.07,231.91 L122.25,231.51 L121.52,231.07 L120.87,230.59 L120.32,230.09 L119.86,229.55 L119.47,228.99 L119.18,228.41 L118.97,227.82 L118.84,227.21 L118.80,226.60 L118.84,223.96 L118.97,223.13 L119.18,222.53 L119.47,222.05 L119.86,221.65 L120.32,221.31 L120.87,221.02 L121.52,220.77 L122.25,220.56 L123.07,220.37 L123.99,220.22 L125.02,220.09 L126.17,219.99 L127.45,219.91 L128.90,219.87 L130.57,219.84 L132.65,219.85 L136.50,219.90 L140.35,219.98 L142.43,220.04 L144.10,220.12 L145.55,220.21 L146.83,220.33 L147.98,220.46 L149.01,220.61 L149.93,220.78 L150.75,220.98 L151.48,221.20 L152.13,221.45 L152.68,221.73 L153.14,222.05 L153.53,222.43 L153.82,222.87 L154.03,223.42 L154.16,224.19Z" fill="#000" opacity="0.22" filter="url(#bl2)"/>
<path d="M151.80,226.60 L151.76,226.98 L151.65,227.36 L151.47,227.74 L151.22,228.11 L150.89,228.47 L150.48,228.81 L150.01,229.14 L149.45,229.46 L148.82,229.75 L148.11,230.03 L147.31,230.28 L146.42,230.50 L145.43,230.70 L144.32,230.87 L143.07,231.02 L141.62,231.13 L139.83,231.22 L136.50,231.30 L133.17,231.35 L131.38,231.33 L129.93,231.26 L128.68,231.16 L127.57,231.02 L126.58,230.84 L125.69,230.62 L124.89,230.37 L124.18,230.09 L123.55,229.78 L122.99,229.45 L122.52,229.09 L122.11,228.71 L121.78,228.31 L121.53,227.89 L121.35,227.47 L121.24,227.04 L121.20,226.60 L121.24,224.72 L121.35,224.12 L121.53,223.69 L121.78,223.35 L122.11,223.07 L122.52,222.83 L122.99,222.62 L123.55,222.45 L124.18,222.30 L124.89,222.17 L125.69,222.06 L126.58,221.98 L127.57,221.91 L128.68,221.87 L129.93,221.84 L131.38,221.83 L133.17,221.84 L136.50,221.90 L139.83,221.97 L141.62,222.03 L143.07,222.09 L144.32,222.17 L145.43,222.25 L146.42,222.35 L147.31,222.46 L148.11,222.58 L148.82,222.72 L149.45,222.87 L150.01,223.05 L150.48,223.25 L150.89,223.47 L151.22,223.73 L151.47,224.03 L151.65,224.41 L151.76,224.94Z" fill="#000" filter="url(#bl1)"/>
<path d="M188.80,226.40 L188.76,226.95 L188.64,227.49 L188.43,228.03 L188.15,228.56 L187.78,229.07 L187.33,229.56 L186.80,230.03 L186.18,230.47 L185.47,230.89 L184.67,231.27 L183.78,231.62 L182.79,231.93 L181.68,232.20 L180.45,232.43 L179.05,232.62 L177.43,232.77 L175.42,232.87 L171.70,232.95 L167.98,232.98 L165.97,232.93 L164.35,232.83 L162.95,232.68 L161.72,232.47 L160.61,232.21 L159.62,231.91 L158.73,231.56 L157.93,231.17 L157.22,230.75 L156.60,230.28 L156.07,229.79 L155.62,229.27 L155.25,228.72 L154.97,228.16 L154.76,227.58 L154.64,226.99 L154.60,226.40 L154.64,223.84 L154.76,223.03 L154.97,222.44 L155.25,221.98 L155.62,221.59 L156.07,221.26 L156.60,220.98 L157.22,220.73 L157.93,220.52 L158.73,220.34 L159.62,220.19 L160.61,220.06 L161.72,219.96 L162.95,219.89 L164.35,219.83 L165.97,219.81 L167.98,219.81 L171.70,219.85 L175.42,219.91 L177.43,219.97 L179.05,220.05 L180.45,220.14 L181.68,220.24 L182.79,220.37 L183.78,220.52 L184.67,220.68 L185.47,220.87 L186.18,221.09 L186.80,221.33 L187.33,221.61 L187.78,221.93 L188.15,222.29 L188.43,222.73 L188.64,223.27 L188.76,224.03Z" fill="#000" opacity="0.22" filter="url(#bl2)"/>
<path d="M186.40,226.40 L186.37,226.77 L186.26,227.15 L186.08,227.51 L185.84,227.87 L185.52,228.22 L185.14,228.56 L184.68,228.88 L184.14,229.19 L183.54,229.47 L182.85,229.74 L182.09,229.98 L181.23,230.20 L180.28,230.39 L179.22,230.56 L178.02,230.69 L176.62,230.80 L174.90,230.88 L171.70,230.95 L168.50,230.99 L166.78,230.96 L165.38,230.90 L164.18,230.80 L163.12,230.66 L162.17,230.48 L161.31,230.27 L160.55,230.03 L159.86,229.76 L159.26,229.46 L158.72,229.14 L158.26,228.79 L157.88,228.42 L157.56,228.04 L157.32,227.64 L157.14,227.23 L157.03,226.82 L157.00,226.40 L157.03,224.59 L157.14,224.02 L157.32,223.61 L157.56,223.28 L157.88,223.01 L158.26,222.78 L158.72,222.58 L159.26,222.41 L159.86,222.26 L160.55,222.14 L161.31,222.04 L162.17,221.95 L163.12,221.89 L164.18,221.84 L165.38,221.81 L166.78,221.79 L168.50,221.80 L171.70,221.85 L174.90,221.91 L176.62,221.96 L178.02,222.02 L179.22,222.09 L180.28,222.17 L181.23,222.26 L182.09,222.36 L182.85,222.48 L183.54,222.61 L184.14,222.76 L184.68,222.93 L185.14,223.12 L185.52,223.34 L185.84,223.59 L186.08,223.89 L186.26,224.26 L186.37,224.78Z" fill="#000" filter="url(#bl1)"/>
<path d="M225.60,225.40 L225.56,225.93 L225.43,226.46 L225.22,226.98 L224.92,227.49 L224.53,227.98 L224.06,228.46 L223.50,228.91 L222.85,229.34 L222.11,229.74 L221.28,230.11 L220.35,230.44 L219.31,230.74 L218.15,231.00 L216.85,231.22 L215.39,231.40 L213.69,231.54 L211.60,231.63 L207.70,231.70 L203.80,231.72 L201.71,231.67 L200.01,231.57 L198.55,231.42 L197.25,231.22 L196.09,230.97 L195.05,230.68 L194.12,230.34 L193.29,229.97 L192.55,229.56 L191.90,229.11 L191.34,228.64 L190.87,228.14 L190.48,227.62 L190.18,227.08 L189.97,226.53 L189.84,225.97 L189.80,225.40 L189.84,222.95 L189.97,222.17 L190.18,221.62 L190.48,221.17 L190.87,220.80 L191.34,220.49 L191.90,220.21 L192.55,219.98 L193.29,219.78 L194.12,219.60 L195.05,219.45 L196.09,219.33 L197.25,219.23 L198.55,219.16 L200.01,219.10 L201.71,219.07 L203.80,219.07 L207.70,219.10 L211.60,219.15 L213.69,219.21 L215.39,219.27 L216.85,219.35 L218.15,219.46 L219.31,219.57 L220.35,219.71 L221.28,219.87 L222.11,220.06 L222.85,220.26 L223.50,220.50 L224.06,220.76 L224.53,221.07 L224.92,221.42 L225.22,221.85 L225.43,222.37 L225.56,223.10Z" fill="#000" opacity="0.22" filter="url(#bl2)"/>
<path d="M223.20,225.40 L223.16,225.76 L223.05,226.11 L222.87,226.46 L222.61,226.80 L222.28,227.14 L221.87,227.46 L221.38,227.77 L220.82,228.06 L220.18,228.33 L219.46,228.58 L218.65,228.81 L217.75,229.01 L216.75,229.19 L215.63,229.34 L214.36,229.47 L212.89,229.57 L211.07,229.64 L207.70,229.70 L204.33,229.73 L202.51,229.70 L201.04,229.64 L199.77,229.54 L198.65,229.40 L197.65,229.24 L196.75,229.04 L195.94,228.81 L195.22,228.55 L194.58,228.27 L194.02,227.97 L193.53,227.64 L193.12,227.30 L192.79,226.94 L192.53,226.56 L192.35,226.18 L192.24,225.79 L192.20,225.40 L192.24,223.70 L192.35,223.17 L192.53,222.78 L192.79,222.48 L193.12,222.22 L193.53,222.00 L194.02,221.82 L194.58,221.65 L195.22,221.52 L195.94,221.40 L196.75,221.30 L197.65,221.22 L198.65,221.15 L199.77,221.11 L201.04,221.07 L202.51,221.06 L204.33,221.06 L207.70,221.10 L211.07,221.15 L212.89,221.19 L214.36,221.24 L215.63,221.31 L216.75,221.38 L217.75,221.46 L218.65,221.56 L219.46,221.67 L220.18,221.80 L220.82,221.94 L221.38,222.10 L221.87,222.28 L222.28,222.49 L222.61,222.73 L222.87,223.01 L223.05,223.36 L223.16,223.85Z" fill="#000" filter="url(#bl1)"/>
<text transform="translate(269.2,14.9) scale(1,1.055)" style="font-weight:bold;font-size:19.1px;fill:#000">B</text>
<g>
<rect x="362.7" y="28.69999999999999" width="1.6" height="171.10000000000002" fill="#000"/>
<rect x="359.3" y="198.2" width="261.2" height="1.75" fill="#000"/>
<rect x="359.3" y="198.25" width="4.2" height="1.5" fill="#000"/>
<text x="356.2" y="203.3" text-anchor="end" style="font-size:12.5px">0</text>
<rect x="359.3" y="155.675" width="4.2" height="1.5" fill="#000"/>
<text x="356.2" y="160.72500000000002" text-anchor="end" style="font-size:12.5px">200</text>
<rect x="359.3" y="113.1" width="4.2" height="1.5" fill="#000"/>
<text x="356.2" y="118.14999999999999" text-anchor="end" style="font-size:12.5px">400</text>
<rect x="359.3" y="70.52499999999999" width="4.2" height="1.5" fill="#000"/>
<text x="356.2" y="75.57499999999999" text-anchor="end" style="font-size:12.5px">600</text>
<rect x="359.3" y="27.94999999999999" width="4.2" height="1.5" fill="#000"/>
<text x="356.2" y="32.999999999999986" text-anchor="end" style="font-size:12.5px">800</text>
<rect x="425.15" y="199.0" width="1.5" height="4.7" fill="#000"/>
<text x="425.9" y="217.3" text-anchor="middle" style="font-size:12.5px">0h</text>
<rect x="556.45" y="199.0" width="1.5" height="4.7" fill="#000"/>
<text x="557.2" y="217.3" text-anchor="middle" style="font-size:12.5px">24h</text>
<rect x="368.70" y="54.70" width="15.5" height="144.30" fill="#000000"/>
<rect x="388.42" y="52.10" width="15.5" height="146.90" fill="#a0a0a0"/>
<rect x="408.14" y="55.90" width="15.5" height="143.10" fill="#808080"/>
<rect x="427.86" y="49.20" width="15.5" height="149.80" fill="#d4d4d4"/>
<rect x="447.58" y="52.10" width="15.5" height="146.90" fill="#606060"/>
<rect x="467.30" y="43.90" width="15.5" height="155.10" fill="#a1a1a1"/>
<rect x="500.10" y="35.40" width="15.5" height="163.60" fill="#000000"/>
<rect x="519.82" y="106.70" width="15.5" height="92.30" fill="#a0a0a0"/>
<rect x="539.54" y="109.80" width="15.5" height="89.20" fill="#808080"/>
<rect x="559.26" y="109.80" width="15.5" height="89.20" fill="#d4d4d4"/>
<rect x="578.98" y="78.10" width="15.5" height="120.90" fill="#606060"/>
<rect x="598.70" y="155.00" width="15.5" height="44.00" fill="#a1a1a1"/>
<rect x="375.55" y="50.40" width="1.8" height="5.50" fill="#000"/>
<rect x="373.15" y="50.40" width="6.6" height="1.5" fill="#000"/>
<rect x="395.27" y="48.90" width="1.8" height="4.40" fill="#000"/>
<rect x="392.87" y="48.90" width="6.6" height="1.5" fill="#000"/>
<rect x="414.99" y="54.70" width="1.8" height="2.40" fill="#000"/>
<rect x="412.59" y="54.70" width="6.6" height="1.5" fill="#000"/>
<rect x="434.71" y="43.00" width="1.8" height="7.40" fill="#000"/>
<rect x="432.31" y="43.00" width="6.6" height="1.5" fill="#000"/>
<rect x="454.43" y="43.90" width="1.8" height="9.40" fill="#000"/>
<rect x="452.03" y="43.90" width="6.6" height="1.5" fill="#000"/>
<rect x="474.15" y="37.50" width="1.8" height="7.60" fill="#000"/>
<rect x="471.75" y="37.50" width="6.6" height="1.5" fill="#000"/>
<rect x="506.95" y="29.20" width="1.8" height="7.40" fill="#000"/>
<rect x="504.55" y="29.20" width="6.6" height="1.5" fill="#000"/>
<rect x="526.67" y="104.60" width="1.8" height="3.30" fill="#000"/>
<rect x="524.27" y="104.60" width="6.6" height="1.5" fill="#000"/>
<rect x="546.39" y="107.70" width="1.8" height="3.30" fill="#000"/>
<rect x="543.99" y="107.70" width="6.6" height="1.5" fill="#000"/>
<rect x="566.11" y="108.00" width="1.8" height="3.00" fill="#000"/>
<rect x="563.71" y="108.00" width="6.6" height="1.5" fill="#000"/>
<rect x="585.83" y="77.00" width="1.8" height="2.30" fill="#000"/>
<rect x="583.43" y="77.00" width="6.6" height="1.5" fill="#000"/>
<rect x="605.55" y="153.30" width="1.8" height="2.90" fill="#000"/>
<rect x="603.15" y="153.30" width="6.6" height="1.5" fill="#000"/>
<text transform="translate(311.0,114.7) rotate(-90)" text-anchor="middle" style="font-size:14.3px">TEER (Ω·cm2)</text>
<path d="M0.00,-2.70 L0.73,-0.71 L2.85,-0.63 L1.19,0.69 L1.76,2.73 L0.00,1.55 L-1.76,2.73 L-1.19,0.69 L-2.85,-0.63 L-0.73,-0.71Z" transform="translate(521.60,99.90)" fill="#333"/>
<path d="M0.00,-2.70 L0.73,-0.71 L2.85,-0.63 L1.19,0.69 L1.76,2.73 L0.00,1.55 L-1.76,2.73 L-1.19,0.69 L-2.85,-0.63 L-0.73,-0.71Z" transform="translate(528.00,99.90)" fill="#333"/>
<path d="M0.00,-2.70 L0.73,-0.71 L2.85,-0.63 L1.19,0.69 L1.76,2.73 L0.00,1.55 L-1.76,2.73 L-1.19,0.69 L-2.85,-0.63 L-0.73,-0.71Z" transform="translate(534.40,99.90)" fill="#333"/>
<path d="M0.00,-2.70 L0.73,-0.71 L2.85,-0.63 L1.19,0.69 L1.76,2.73 L0.00,1.55 L-1.76,2.73 L-1.19,0.69 L-2.85,-0.63 L-0.73,-0.71Z" transform="translate(541.50,104.50)" fill="#333"/>
<path d="M0.00,-2.70 L0.73,-0.71 L2.85,-0.63 L1.19,0.69 L1.76,2.73 L0.00,1.55 L-1.76,2.73 L-1.19,0.69 L-2.85,-0.63 L-0.73,-0.71Z" transform="translate(547.90,104.50)" fill="#333"/>
<path d="M0.00,-2.70 L0.73,-0.71 L2.85,-0.63 L1.19,0.69 L1.76,2.73 L0.00,1.55 L-1.76,2.73 L-1.19,0.69 L-2.85,-0.63 L-0.73,-0.71Z" transform="translate(554.30,104.50)" fill="#333"/>
<path d="M0.00,-2.70 L0.73,-0.71 L2.85,-0.63 L1.19,0.69 L1.76,2.73 L0.00,1.55 L-1.76,2.73 L-1.19,0.69 L-2.85,-0.63 L-0.73,-0.71Z" transform="translate(561.50,102.00)" fill="#333"/>
<path d="M0.00,-2.70 L0.73,-0.71 L2.85,-0.63 L1.19,0.69 L1.76,2.73 L0.00,1.55 L-1.76,2.73 L-1.19,0.69 L-2.85,-0.63 L-0.73,-0.71Z" transform="translate(567.90,102.00)" fill="#333"/>
<path d="M0.00,-2.70 L0.73,-0.71 L2.85,-0.63 L1.19,0.69 L1.76,2.73 L0.00,1.55 L-1.76,2.73 L-1.19,0.69 L-2.85,-0.63 L-0.73,-0.71Z" transform="translate(574.30,102.00)" fill="#333"/>
<path d="M0.00,-2.70 L0.73,-0.71 L2.85,-0.63 L1.19,0.69 L1.76,2.73 L0.00,1.55 L-1.76,2.73 L-1.19,0.69 L-2.85,-0.63 L-0.73,-0.71Z" transform="translate(580.60,71.60)" fill="#333"/>
<path d="M0.00,-2.70 L0.73,-0.71 L2.85,-0.63 L1.19,0.69 L1.76,2.73 L0.00,1.55 L-1.76,2.73 L-1.19,0.69 L-2.85,-0.63 L-0.73,-0.71Z" transform="translate(587.00,71.60)" fill="#333"/>
<path d="M0.00,-2.70 L0.73,-0.71 L2.85,-0.63 L1.19,0.69 L1.76,2.73 L0.00,1.55 L-1.76,2.73 L-1.19,0.69 L-2.85,-0.63 L-0.73,-0.71Z" transform="translate(593.40,71.60)" fill="#333"/>
<path d="M0.00,-2.70 L0.73,-0.71 L2.85,-0.63 L1.19,0.69 L1.76,2.73 L0.00,1.55 L-1.76,2.73 L-1.19,0.69 L-2.85,-0.63 L-0.73,-0.71Z" transform="translate(601.20,148.40)" fill="#333"/>
<path d="M0.00,-2.70 L0.73,-0.71 L2.85,-0.63 L1.19,0.69 L1.76,2.73 L0.00,1.55 L-1.76,2.73 L-1.19,0.69 L-2.85,-0.63 L-0.73,-0.71Z" transform="translate(607.60,148.40)" fill="#333"/>
<path d="M0.00,-2.70 L0.73,-0.71 L2.85,-0.63 L1.19,0.69 L1.76,2.73 L0.00,1.55 L-1.76,2.73 L-1.19,0.69 L-2.85,-0.63 L-0.73,-0.71Z" transform="translate(614.00,148.40)" fill="#333"/>
<line x1="578.93" y1="65.60" x2="579.92" y2="57.40" stroke="#222" stroke-width="1.11"/>
<line x1="581.06" y1="65.60" x2="582.04" y2="57.40" stroke="#222" stroke-width="1.11"/>
<line x1="577.30" y1="60.35" x2="583.20" y2="60.35" stroke="#222" stroke-width="1.23"/>
<line x1="577.30" y1="63.14" x2="583.20" y2="63.14" stroke="#222" stroke-width="1.23"/>
<line x1="585.78" y1="65.60" x2="586.77" y2="57.40" stroke="#222" stroke-width="1.11"/>
<line x1="587.91" y1="65.60" x2="588.89" y2="57.40" stroke="#222" stroke-width="1.11"/>
<line x1="584.15" y1="60.35" x2="590.05" y2="60.35" stroke="#222" stroke-width="1.23"/>
<line x1="584.15" y1="63.14" x2="590.05" y2="63.14" stroke="#222" stroke-width="1.23"/>
<line x1="592.63" y1="65.60" x2="593.61" y2="57.40" stroke="#222" stroke-width="1.11"/>
<line x1="594.76" y1="65.60" x2="595.74" y2="57.40" stroke="#222" stroke-width="1.11"/>
<line x1="591.00" y1="60.35" x2="596.90" y2="60.35" stroke="#222" stroke-width="1.23"/>
<line x1="591.00" y1="63.14" x2="596.90" y2="63.14" stroke="#222" stroke-width="1.23"/>
<line x1="600.63" y1="140.60" x2="601.39" y2="134.20" stroke="#222" stroke-width="0.86"/>
<line x1="602.28" y1="140.60" x2="603.05" y2="134.20" stroke="#222" stroke-width="0.86"/>
<line x1="599.35" y1="136.50" x2="603.96" y2="136.50" stroke="#222" stroke-width="0.96"/>
<line x1="599.35" y1="138.68" x2="603.96" y2="138.68" stroke="#222" stroke-width="0.96"/>
<line x1="605.97" y1="140.60" x2="606.74" y2="134.20" stroke="#222" stroke-width="0.86"/>
<line x1="607.63" y1="140.60" x2="608.40" y2="134.20" stroke="#222" stroke-width="0.86"/>
<line x1="604.70" y1="136.50" x2="609.30" y2="136.50" stroke="#222" stroke-width="0.96"/>
<line x1="604.70" y1="138.68" x2="609.30" y2="138.68" stroke="#222" stroke-width="0.96"/>
<line x1="611.32" y1="140.60" x2="612.08" y2="134.20" stroke="#222" stroke-width="0.86"/>
<line x1="612.98" y1="140.60" x2="613.74" y2="134.20" stroke="#222" stroke-width="0.86"/>
<line x1="610.04" y1="136.50" x2="614.65" y2="136.50" stroke="#222" stroke-width="0.96"/>
<line x1="610.04" y1="138.68" x2="614.65" y2="138.68" stroke="#222" stroke-width="0.96"/>
<path d="M601.10,120.00 L603.10,120.00 L602.80,127.59 L601.40,127.59 Z" fill="#505050"/>
<rect x="601.25" y="128.84" width="1.7" height="1.56" fill="#505050"/>
<path d="M605.60,120.00 L607.60,120.00 L607.30,127.59 L605.90,127.59 Z" fill="#505050"/>
<rect x="605.75" y="128.84" width="1.7" height="1.56" fill="#505050"/>
<path d="M610.10,120.00 L612.10,120.00 L611.80,127.59 L610.40,127.59 Z" fill="#505050"/>
<rect x="610.25" y="128.84" width="1.7" height="1.56" fill="#505050"/>
</g>
<rect x="657.4" y="34.60" width="20.7" height="11.5" fill="#000000"/>
<text x="687.1999999999999" y="44.90" style="font-size:14px">BLANK</text>
<rect x="657.4" y="57.56" width="20.7" height="11.5" fill="#a0a0a0"/>
<text x="687.1999999999999" y="67.86" style="font-size:14px">3-TYP</text>
<rect x="657.4" y="80.52" width="20.7" height="11.5" fill="#808080"/>
<text x="687.1999999999999" y="90.82" style="font-size:14px">Control</text>
<rect x="657.4" y="103.48" width="20.7" height="11.5" fill="#d4d4d4"/>
<text x="687.1999999999999" y="113.78" style="font-size:14px">Vector</text>
<rect x="657.4" y="126.44" width="20.7" height="11.5" fill="#606060"/>
<text x="687.1999999999999" y="136.74" style="font-size:14px">Sirt3</text>
<rect x="657.4" y="149.40" width="20.7" height="11.5" fill="#a1a1a1"/>
<text x="687.1999999999999" y="159.70" style="font-size:14px">Sirt3+U-46619</text>
<text transform="translate(0.7,324.7) scale(1,1.06)" style="font-weight:bold;font-size:20.5px;fill:#000">C</text>
<g>
<rect x="85.5" y="323.5" width="1.6" height="171.10000000000002" fill="#000"/>
<rect x="82.1" y="493.0" width="261.2" height="1.75" fill="#000"/>
<rect x="82.1" y="493.05" width="4.2" height="1.5" fill="#000"/>
<text x="80.0" y="498.1" text-anchor="end" style="font-size:12.5px">0</text>
<rect x="82.1" y="450.475" width="4.2" height="1.5" fill="#000"/>
<text x="80.0" y="455.52500000000003" text-anchor="end" style="font-size:12.5px">20</text>
<rect x="82.1" y="407.9" width="4.2" height="1.5" fill="#000"/>
<text x="80.0" y="412.95" text-anchor="end" style="font-size:12.5px">40</text>
<rect x="82.1" y="365.325" width="4.2" height="1.5" fill="#000"/>
<text x="80.0" y="370.375" text-anchor="end" style="font-size:12.5px">60</text>
<rect x="82.1" y="322.75" width="4.2" height="1.5" fill="#000"/>
<text x="80.0" y="327.8" text-anchor="end" style="font-size:12.5px">80</text>
<rect x="147.95" y="493.8" width="1.5" height="4.7" fill="#000"/>
<text x="148.7" y="512.1" text-anchor="middle" style="font-size:12.5px">0h</text>
<rect x="279.25" y="493.8" width="1.5" height="4.7" fill="#000"/>
<text x="280.0" y="512.1" text-anchor="middle" style="font-size:12.5px">24h</text>
<rect x="91.90" y="448.10" width="15.5" height="45.70" fill="#000000"/>
<rect x="111.62" y="448.40" width="15.5" height="45.40" fill="#a0a0a0"/>
<rect x="131.34" y="448.30" width="15.5" height="45.50" fill="#808080"/>
<rect x="151.06" y="448.50" width="15.5" height="45.30" fill="#d4d4d4"/>
<rect x="170.78" y="448.60" width="15.5" height="45.20" fill="#606060"/>
<rect x="190.50" y="448.40" width="15.5" height="45.40" fill="#a1a1a1"/>
<rect x="222.80" y="431.90" width="15.5" height="61.90" fill="#000000"/>
<rect x="242.52" y="405.30" width="15.5" height="88.50" fill="#a0a0a0"/>
<rect x="262.24" y="383.00" width="15.5" height="110.80" fill="#808080"/>
<rect x="281.96" y="383.00" width="15.5" height="110.80" fill="#d4d4d4"/>
<rect x="301.68" y="425.80" width="15.5" height="68.00" fill="#606060"/>
<rect x="321.40" y="360.90" width="15.5" height="132.90" fill="#a1a1a1"/>
<rect x="116.07" y="448.20" width="6.6" height="1.3" fill="#000"/>
<rect x="135.79" y="448.00" width="6.6" height="1.3" fill="#000"/>
<rect x="155.51" y="448.40" width="6.6" height="1.3" fill="#000"/>
<rect x="175.23" y="448.50" width="6.6" height="1.3" fill="#000"/>
<rect x="194.95" y="448.20" width="6.6" height="1.3" fill="#000"/>
<rect x="246.97" y="405.00" width="6.6" height="1.3" fill="#000"/>
<rect x="266.69" y="382.80" width="6.6" height="1.3" fill="#000"/>
<rect x="286.41" y="382.80" width="6.6" height="1.3" fill="#000"/>
<rect x="306.13" y="425.40" width="6.6" height="1.3" fill="#000"/>
<rect x="325.85" y="360.60" width="6.6" height="1.3" fill="#000"/>
<text transform="translate(42.2,408.6) rotate(-90)" text-anchor="middle" style="font-size:14px">FITC-Dextron (ug/ml)</text>
<path d="M0.00,-2.70 L0.73,-0.71 L2.85,-0.63 L1.19,0.69 L1.76,2.73 L0.00,1.55 L-1.76,2.73 L-1.19,0.69 L-2.85,-0.63 L-0.73,-0.71Z" transform="translate(244.80,399.20)" fill="#333"/>
<path d="M0.00,-2.70 L0.73,-0.71 L2.85,-0.63 L1.19,0.69 L1.76,2.73 L0.00,1.55 L-1.76,2.73 L-1.19,0.69 L-2.85,-0.63 L-0.73,-0.71Z" transform="translate(251.20,399.20)" fill="#333"/>
<path d="M0.00,-2.70 L0.73,-0.71 L2.85,-0.63 L1.19,0.69 L1.76,2.73 L0.00,1.55 L-1.76,2.73 L-1.19,0.69 L-2.85,-0.63 L-0.73,-0.71Z" transform="translate(257.60,399.20)" fill="#333"/>
<path d="M0.00,-2.70 L0.73,-0.71 L2.85,-0.63 L1.19,0.69 L1.76,2.73 L0.00,1.55 L-1.76,2.73 L-1.19,0.69 L-2.85,-0.63 L-0.73,-0.71Z" transform="translate(263.00,378.10)" fill="#333"/>
<path d="M0.00,-2.70 L0.73,-0.71 L2.85,-0.63 L1.19,0.69 L1.76,2.73 L0.00,1.55 L-1.76,2.73 L-1.19,0.69 L-2.85,-0.63 L-0.73,-0.71Z" transform="translate(269.40,378.10)" fill="#333"/>
<path d="M0.00,-2.70 L0.73,-0.71 L2.85,-0.63 L1.19,0.69 L1.76,2.73 L0.00,1.55 L-1.76,2.73 L-1.19,0.69 L-2.85,-0.63 L-0.73,-0.71Z" transform="translate(275.80,378.10)" fill="#333"/>
<path d="M0.00,-2.70 L0.73,-0.71 L2.85,-0.63 L1.19,0.69 L1.76,2.73 L0.00,1.55 L-1.76,2.73 L-1.19,0.69 L-2.85,-0.63 L-0.73,-0.71Z" transform="translate(282.10,376.70)" fill="#333"/>
<path d="M0.00,-2.70 L0.73,-0.71 L2.85,-0.63 L1.19,0.69 L1.76,2.73 L0.00,1.55 L-1.76,2.73 L-1.19,0.69 L-2.85,-0.63 L-0.73,-0.71Z" transform="translate(288.50,376.70)" fill="#333"/>
<path d="M0.00,-2.70 L0.73,-0.71 L2.85,-0.63 L1.19,0.69 L1.76,2.73 L0.00,1.55 L-1.76,2.73 L-1.19,0.69 L-2.85,-0.63 L-0.73,-0.71Z" transform="translate(294.90,376.70)" fill="#333"/>
<path d="M0.00,-2.70 L0.73,-0.71 L2.85,-0.63 L1.19,0.69 L1.76,2.73 L0.00,1.55 L-1.76,2.73 L-1.19,0.69 L-2.85,-0.63 L-0.73,-0.71Z" transform="translate(302.60,421.30)" fill="#333"/>
<path d="M0.00,-2.70 L0.73,-0.71 L2.85,-0.63 L1.19,0.69 L1.76,2.73 L0.00,1.55 L-1.76,2.73 L-1.19,0.69 L-2.85,-0.63 L-0.73,-0.71Z" transform="translate(309.00,421.30)" fill="#333"/>
<path d="M0.00,-2.70 L0.73,-0.71 L2.85,-0.63 L1.19,0.69 L1.76,2.73 L0.00,1.55 L-1.76,2.73 L-1.19,0.69 L-2.85,-0.63 L-0.73,-0.71Z" transform="translate(315.40,421.30)" fill="#333"/>
<path d="M0.00,-2.70 L0.73,-0.71 L2.85,-0.63 L1.19,0.69 L1.76,2.73 L0.00,1.55 L-1.76,2.73 L-1.19,0.69 L-2.85,-0.63 L-0.73,-0.71Z" transform="translate(322.80,356.80)" fill="#333"/>
<path d="M0.00,-2.70 L0.73,-0.71 L2.85,-0.63 L1.19,0.69 L1.76,2.73 L0.00,1.55 L-1.76,2.73 L-1.19,0.69 L-2.85,-0.63 L-0.73,-0.71Z" transform="translate(329.20,356.80)" fill="#333"/>
<path d="M0.00,-2.70 L0.73,-0.71 L2.85,-0.63 L1.19,0.69 L1.76,2.73 L0.00,1.55 L-1.76,2.73 L-1.19,0.69 L-2.85,-0.63 L-0.73,-0.71Z" transform="translate(335.60,356.80)" fill="#333"/>
<line x1="302.63" y1="415.20" x2="303.41" y2="408.70" stroke="#222" stroke-width="0.88"/>
<line x1="304.31" y1="415.20" x2="305.09" y2="408.70" stroke="#222" stroke-width="0.88"/>
<line x1="301.33" y1="411.04" x2="306.01" y2="411.04" stroke="#222" stroke-width="0.97"/>
<line x1="301.33" y1="413.25" x2="306.01" y2="413.25" stroke="#222" stroke-width="0.97"/>
<line x1="308.05" y1="415.20" x2="308.83" y2="408.70" stroke="#222" stroke-width="0.88"/>
<line x1="309.74" y1="415.20" x2="310.52" y2="408.70" stroke="#222" stroke-width="0.88"/>
<line x1="306.76" y1="411.04" x2="311.44" y2="411.04" stroke="#222" stroke-width="0.97"/>
<line x1="306.76" y1="413.25" x2="311.44" y2="413.25" stroke="#222" stroke-width="0.97"/>
<line x1="313.48" y1="415.20" x2="314.26" y2="408.70" stroke="#222" stroke-width="0.88"/>
<line x1="315.17" y1="415.20" x2="315.95" y2="408.70" stroke="#222" stroke-width="0.88"/>
<line x1="312.19" y1="411.04" x2="316.87" y2="411.04" stroke="#222" stroke-width="0.97"/>
<line x1="312.19" y1="413.25" x2="316.87" y2="413.25" stroke="#222" stroke-width="0.97"/>
<line x1="323.33" y1="350.90" x2="324.11" y2="344.40" stroke="#222" stroke-width="0.88"/>
<line x1="325.01" y1="350.90" x2="325.79" y2="344.40" stroke="#222" stroke-width="0.88"/>
<line x1="322.03" y1="346.74" x2="326.71" y2="346.74" stroke="#222" stroke-width="0.97"/>
<line x1="322.03" y1="348.95" x2="326.71" y2="348.95" stroke="#222" stroke-width="0.97"/>
<line x1="328.75" y1="350.90" x2="329.53" y2="344.40" stroke="#222" stroke-width="0.88"/>
<line x1="330.44" y1="350.90" x2="331.22" y2="344.40" stroke="#222" stroke-width="0.88"/>
<line x1="327.46" y1="346.74" x2="332.14" y2="346.74" stroke="#222" stroke-width="0.97"/>
<line x1="327.46" y1="348.95" x2="332.14" y2="348.95" stroke="#222" stroke-width="0.97"/>
<line x1="334.18" y1="350.90" x2="334.96" y2="344.40" stroke="#222" stroke-width="0.88"/>
<line x1="335.87" y1="350.90" x2="336.65" y2="344.40" stroke="#222" stroke-width="0.88"/>
<line x1="332.89" y1="346.74" x2="337.57" y2="346.74" stroke="#222" stroke-width="0.97"/>
<line x1="332.89" y1="348.95" x2="337.57" y2="348.95" stroke="#222" stroke-width="0.97"/>
<path d="M323.20,329.00 L325.20,329.00 L324.90,336.30 L323.50,336.30 Z" fill="#505050"/>
<rect x="323.35" y="337.50" width="1.7" height="1.50" fill="#505050"/>
<path d="M327.70,329.00 L329.70,329.00 L329.40,336.30 L328.00,336.30 Z" fill="#505050"/>
<rect x="327.85" y="337.50" width="1.7" height="1.50" fill="#505050"/>
<path d="M332.20,329.00 L334.20,329.00 L333.90,336.30 L332.50,336.30 Z" fill="#505050"/>
<rect x="332.35" y="337.50" width="1.7" height="1.50" fill="#505050"/>
</g>
<rect x="380.2" y="329.40" width="20.7" height="11.5" fill="#000000"/>
<text x="410.0" y="339.70" style="font-size:14px">BLANK</text>
<rect x="380.2" y="352.36" width="20.7" height="11.5" fill="#a0a0a0"/>
<text x="410.0" y="362.66" style="font-size:14px">3-TYP</text>
<rect x="380.2" y="375.32" width="20.7" height="11.5" fill="#808080"/>
<text x="410.0" y="385.62" style="font-size:14px">Control</text>
<rect x="380.2" y="398.28" width="20.7" height="11.5" fill="#d4d4d4"/>
<text x="410.0" y="408.58" style="font-size:14px">Vector</text>
<rect x="380.2" y="421.24" width="20.7" height="11.5" fill="#606060"/>
<text x="410.0" y="431.54" style="font-size:14px">Sirt3</text>
<rect x="380.2" y="444.20" width="20.7" height="11.5" fill="#a1a1a1"/>
<text x="410.0" y="454.50" style="font-size:14px">Sirt3+U-46619</text>
</svg></body></html>
